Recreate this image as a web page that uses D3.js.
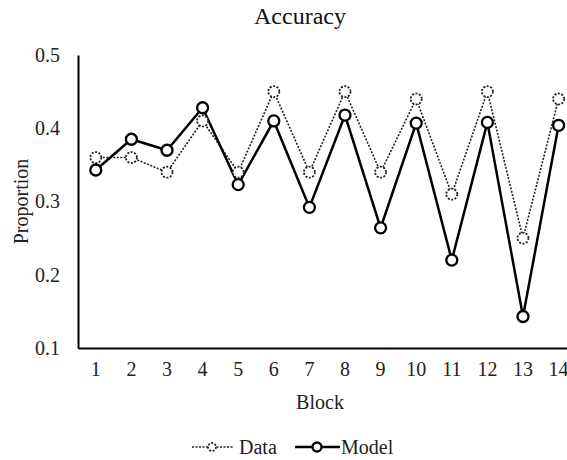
<!DOCTYPE html>
<html>
<head>
<meta charset="utf-8">
<script src="https://cdn.jsdelivr.net/npm/d3@7"></script>
<style>
  body { margin: 0; background: #fff; }
  svg { display: block; font-family: "Liberation Serif", "Times New Roman", serif; }
  .axis path, .axis line { stroke: #000; }
  .axis text { font-size: 20px; fill: #222; font-family: "Liberation Serif", serif; }
</style>
</head>
<body>
<div id="chart"></div>
<script>
// blocks on the x axis
var blocks = [1, 2, 3, 4, 5, 6, 7, 8, 9, 10, 11, 12, 13, 14];
// observed proportions
var dataValues = [0.36, 0.36, 0.34, 0.41, 0.34, 0.45, 0.34, 0.45, 0.34, 0.44, 0.31, 0.45, 0.25, 0.44];
// model predictions
var modelValues = [0.343, 0.385, 0.370, 0.428, 0.323, 0.410, 0.292, 0.418, 0.264, 0.407, 0.220, 0.408, 0.143, 0.404];
var yTicks = [0.1, 0.2, 0.3, 0.4, 0.5];

var width = 567, height = 460;
var margin = {top: 55, left: 78, bottom: 112};

var svg = d3.select("#chart").append("svg")
    .attr("width", width)
    .attr("height", height);

var xScale = d3.scaleBand()
    .domain(blocks)
    .range([margin.left, margin.left + 14 * 35.6]);

var yScale = d3.scaleLinear()
    .domain([0.1, 0.5])
    .range([height - margin.bottom, margin.top]);

var cx = function(d, i) { return xScale(blocks[i]) + xScale.bandwidth() / 2; };

// title
svg.append("text")
    .attr("x", 300)
    .attr("y", 24)
    .attr("text-anchor", "middle")
    .style("font-size", "24px")
    .style("fill", "#111")
    .text("Accuracy");

// axes
svg.append("g")
    .attr("class", "x axis")
    .attr("transform", "translate(0," + yScale(0.1) + ")")
    .call(d3.axisBottom(xScale).tickSize(0).tickPadding(14).tickSizeOuter(0))
    .select(".domain").attr("stroke-width", 2);

svg.append("g")
    .attr("class", "y axis")
    .attr("transform", "translate(" + margin.left + ",0)")
    .call(d3.axisLeft(yScale).tickValues(yTicks).tickFormat(d3.format(".1f")).tickSize(0).tickPadding(18).tickSizeOuter(0))
    .select(".domain").attr("stroke-width", 2);

// axis titles
svg.append("text")
    .attr("transform", "translate(21," + ((yScale(0.1) + yScale(0.5)) / 2) + ") rotate(-90)")
    .attr("text-anchor", "middle")
    .attr("dy", "0.35em")
    .style("font-size", "20px")
    .style("fill", "#222")
    .text("Proportion");

svg.append("text")
    .attr("x", 320)
    .attr("y", 409)
    .attr("text-anchor", "middle")
    .style("font-size", "20px")
    .style("fill", "#222")
    .text("Block");

var line = d3.line()
    .x(cx)
    .y(function(d) { return yScale(d); });

// data series (dotted)
svg.append("path")
    .datum(dataValues)
    .attr("d", line)
    .attr("fill", "none")
    .attr("stroke", "#222")
    .attr("stroke-width", 1.6)
    .attr("stroke-dasharray", "2,1.5");

// model series (solid)
svg.append("path")
    .datum(modelValues)
    .attr("d", line)
    .attr("fill", "none")
    .attr("stroke", "#000")
    .attr("stroke-width", 2.5);

svg.selectAll(".data-pt")
    .data(dataValues)
    .enter().append("circle")
    .attr("class", "data-pt")
    .attr("cx", cx)
    .attr("cy", function(d) { return yScale(d); })
    .attr("r", 5.5)
    .attr("fill", "#fff")
    .attr("stroke", "#222")
    .attr("stroke-width", 1.8)
    .attr("stroke-dasharray", "2,1.5");

svg.selectAll(".model-pt")
    .data(modelValues)
    .enter().append("circle")
    .attr("class", "model-pt")
    .attr("cx", cx)
    .attr("cy", function(d) { return yScale(d); })
    .attr("r", 5.5)
    .attr("fill", "#fff")
    .attr("stroke", "#000")
    .attr("stroke-width", 2.3);

// legend
var legendY = 447;
var leg = svg.append("g");

leg.append("line")
    .attr("x1", 192).attr("x2", 233)
    .attr("y1", legendY).attr("y2", legendY)
    .attr("stroke", "#222").attr("stroke-width", 1.6)
    .attr("stroke-dasharray", "2,1.5");
leg.append("circle")
    .attr("cx", 212).attr("cy", legendY).attr("r", 4)
    .attr("fill", "#fff").attr("stroke", "#222")
    .attr("stroke-width", 1.8).attr("stroke-dasharray", "2,1.5");
leg.append("text")
    .attr("x", 239).attr("y", legendY).attr("dy", "0.35em")
    .style("font-size", "20px").style("fill", "#222")
    .text("Data");

leg.append("line")
    .attr("x1", 295).attr("x2", 340)
    .attr("y1", legendY).attr("y2", legendY)
    .attr("stroke", "#000").attr("stroke-width", 2.5);
leg.append("circle")
    .attr("cx", 317).attr("cy", legendY).attr("r", 4.5)
    .attr("fill", "#fff").attr("stroke", "#000")
    .attr("stroke-width", 2.3);
leg.append("text")
    .attr("x", 341).attr("y", legendY).attr("dy", "0.35em")
    .style("font-size", "20px").style("fill", "#222")
    .text("Model");
</script>
</body>
</html>
